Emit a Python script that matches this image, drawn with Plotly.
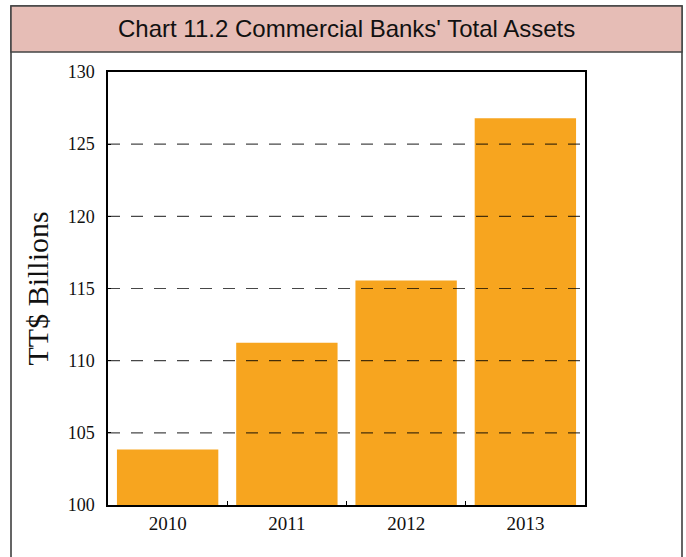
import plotly.graph_objects as go

years = ["2010", "2011", "2012", "2013"]
assets = [103.85, 111.25, 115.55, 126.8]
y_ticks = [100, 105, 110, 115, 120, 125, 130]
grid_levels = [105, 110, 115, 120, 125]

W, H = 686, 557
L, T = 108, 72
R = W - 585
B = H - 505
pw, ph = W - L - R, H - T - B

def px(x):
    return (x - L) / pw

def py(y):
    return (H - B - y) / ph

fig = go.Figure()
fig.add_trace(go.Bar(x=years, y=assets, marker=dict(color="#F7A51F", line=dict(width=0))))

shapes = []
shapes.append(dict(type="rect", xref="paper", yref="paper", x0=px(11), x1=px(682), y0=py(575), y1=py(6),
                   line=dict(color="#333333", width=1.5), fillcolor="rgba(0,0,0,0)", layer="below"))
shapes.append(dict(type="rect", xref="paper", yref="paper", x0=px(11), x1=px(682), y0=py(52), y1=py(6),
                   line=dict(color="#444444", width=1.5), fillcolor="#E6BDB6", layer="below"))
for g in grid_levels:
    shapes.append(dict(type="line", xref="paper", yref="y", x0=0, x1=1, y0=g, y1=g,
                       line=dict(color="rgba(0,0,0,0.72)", width=1.1, dash="12px,11px"), layer="above"))

fig.update_layout(
    width=W, height=H,
    margin=dict(l=L, r=R, t=T, b=B, pad=0),
    paper_bgcolor="white", plot_bgcolor="white",
    showlegend=False,
    bargap=0.15,
    shapes=shapes,
    annotations=[
        dict(text="Chart 11.2 Commercial Banks' Total Assets", xref="paper", yref="paper",
             x=px(346.5), y=py(29), xanchor="center", yanchor="middle", showarrow=False,
             font=dict(family="Liberation Sans, Arial", size=24, color="#111111")),
        dict(text="TT$ Billions", xref="paper", yref="paper", x=px(37), y=0.5,
             xanchor="center", yanchor="middle", textangle=-90, showarrow=False,
             font=dict(family="Liberation Serif, Times New Roman", size=30, color="#111111")),
    ],
    xaxis=dict(type="category", showline=True, mirror=True, linecolor="black", linewidth=1.5,
               ticks="inside", tickson="boundaries", ticklen=4, tickcolor="black", tickwidth=1,
               showgrid=False, tickfont=dict(family="Liberation Serif, Times New Roman", size=19, color="#111111")),
    yaxis=dict(range=[100, 130], tickvals=y_ticks, showline=True, mirror=True, linecolor="black", linewidth=1.5,
               ticks="inside", ticklen=3, tickcolor="black", tickwidth=1, showgrid=False, zeroline=False,
               ticklabelstandoff=8,
               tickfont=dict(family="Liberation Serif, Times New Roman", size=18, color="#111111")),
)

fig.write_html(
    "out.html",
    config={"displayModeBar": False},
    post_script="document.body.style.margin='0';document.body.style.overflow='hidden';",
)
